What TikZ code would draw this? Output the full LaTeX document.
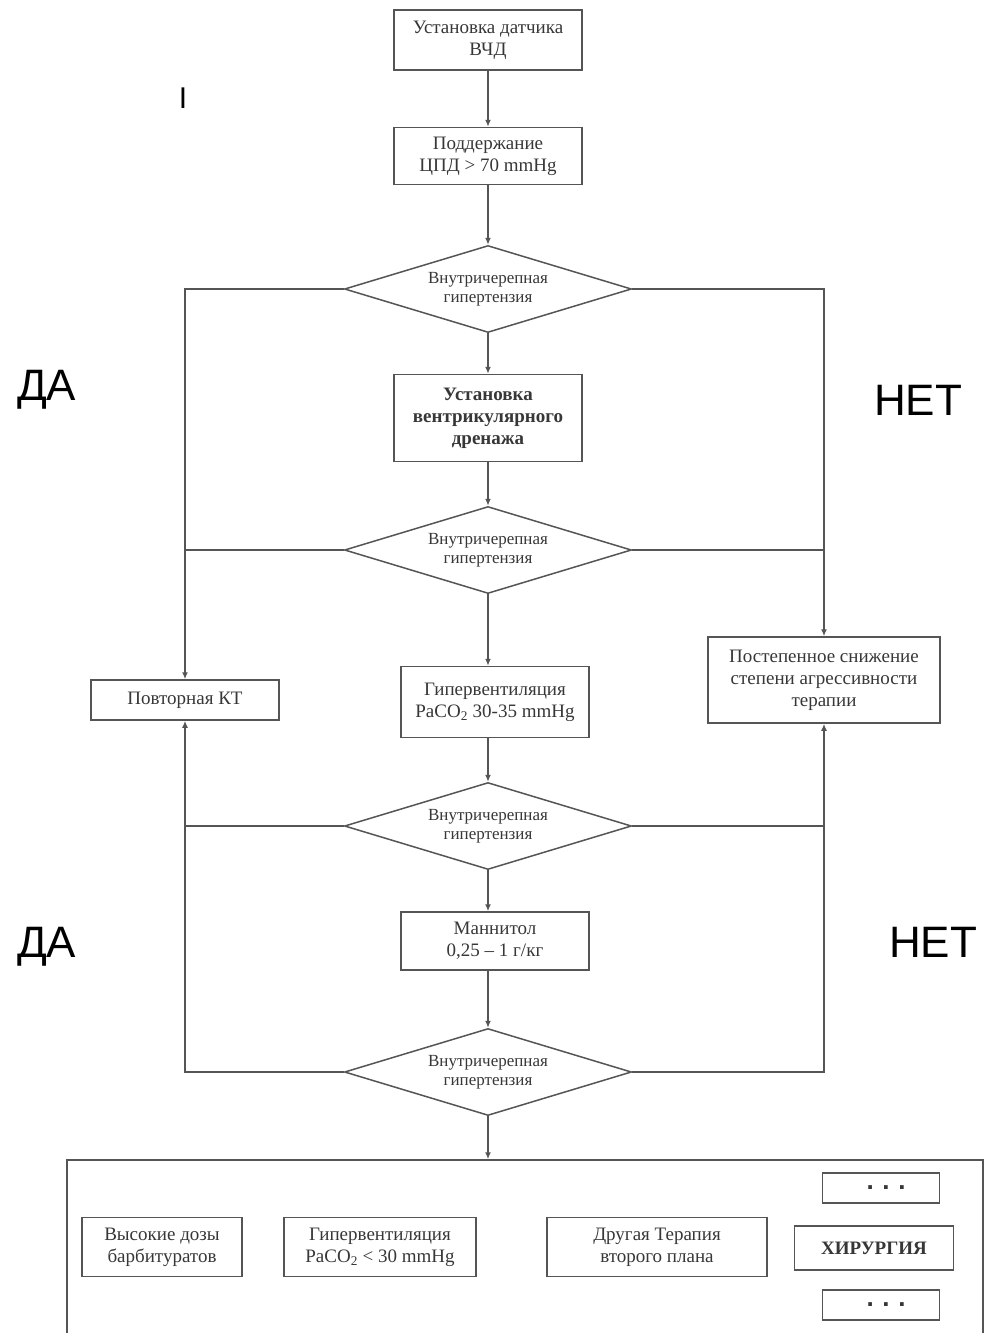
\documentclass[tikz,border=0pt]{standalone}
\usepackage{fontspec}
\setmainfont{Liberation Serif}
\newfontfamily\answerfont{Liberation Sans}
\definecolor{LineGray}{RGB}{85, 85, 85}
\definecolor{TextGray}{RGB}{55, 55, 55}
\usetikzlibrary{arrows.meta, positioning, shapes.geometric, calc}

\begin{document}
\begin{tikzpicture}[x=1pt, y=-1pt,
    stepbox/.style={draw=LineGray, line width=1.5pt, align=center, text=TextGray,
        font=\fontsize{19}{22}\selectfont, inner sep=2pt},
    check/.style={diamond, aspect=3.3, draw=LineGray, line width=1.5pt, minimum width=287pt,
        minimum height=87pt, inner sep=0pt, align=center, text=TextGray,
        font=\fontsize{17}{19}\selectfont},
    morebox/.style={stepbox, minimum width=117pt, minimum height=30pt,
        font=\bfseries\answerfont\fontsize{26}{26}\selectfont},
    arr/.style={draw=LineGray, line width=1.5pt, -{Latex[length=7pt, width=6pt]}},
    link/.style={draw=LineGray, line width=1.5pt},
    answer/.style={font=\answerfont\fontsize{44}{44}\selectfont, inner sep=0pt}]
    \useasboundingbox (0,0) rectangle (985,1333);

    % main column
    \node[stepbox, minimum width=188pt, minimum height=60pt] (sensor) at (488,40) {Установка датчика\\ВЧД};
    \node[stepbox, minimum width=188pt, minimum height=57pt] (cpp) at (488,156) {Поддержание\\ЦПД > 70 mmHg};
    \node[check] (ich1) at (488,289) {Внутричерепная\\гипертензия};
    \node[stepbox, minimum width=188pt, minimum height=87pt, font=\bfseries\fontsize{19}{22}\selectfont] (drain) at (488,418) {Установка\\вентрикулярного\\дренажа};
    \node[check] (ich2) at (488,550) {Внутричерепная\\гипертензия};
    \node[stepbox, minimum width=188pt, minimum height=71pt] (hypervent) at (495,702) {Гипервентиляция\\PaCO\textsubscript{2} 30-35 mmHg};
    \node[check] (ich3) at (488,826) {Внутричерепная\\гипертензия};
    \node[stepbox, minimum width=188pt, minimum height=58pt] (mannitol) at (495,941) {Маннитол\\0,25 -- 1 г/кг};
    \node[check] (ich4) at (488,1072) {Внутричерепная\\гипертензия};

    % side boxes
    \node[stepbox, minimum width=188pt, minimum height=40pt] (repeatct) at (185,700) {Повторная КТ};
    \node[stepbox, minimum width=232pt, minimum height=86pt] (taper) at (824,680) {Постепенное снижение\\степени агрессивности\\терапии};

    % second line therapy
    \node[draw=LineGray, line width=1.5pt, minimum width=916pt, minimum height=176pt, inner sep=0pt] (second) at (525,1248) {};
    \node[stepbox, minimum width=160pt, minimum height=59pt] (barbit) at (162,1247) {Высокие дозы\\барбитуратов};
    \node[stepbox, minimum width=192pt, minimum height=59pt] (deephv) at (380,1247) {Гипервентиляция\\PaCO\textsubscript{2} < 30 mmHg};
    \node[stepbox, minimum width=220pt, minimum height=59pt] (other) at (657,1247) {Другая Терапия\\второго плана};
    \node[stepbox, minimum width=159pt, minimum height=44pt, font=\bfseries\fontsize{19}{22}\selectfont] (surgery) at (874,1248) {ХИРУРГИЯ};
    \node[morebox] (moretop) at (881,1188) {\hspace{10pt}.\,\,.\,\,.};
    \node[morebox] (morebot) at (881,1305) {\hspace{10pt}.\,\,.\,\,.};

    % labels
    \node[answer, anchor=base west] (yes1) at (17,400) {ДА};
    \node[answer, anchor=base west] (no1) at (874,415) {НЕТ};
    \node[answer, anchor=base west] (yes2) at (17,957) {ДА};
    \node[answer, anchor=base west] (no2) at (889,957) {НЕТ};
    \node[font=\answerfont\fontsize{30}{30}\selectfont, inner sep=0pt, anchor=base] (cursor) at (183,108) {I};

    % connectors down the middle
    \draw[arr] (sensor) -- (cpp);
    \draw[arr] (cpp) -- (ich1);
    \draw[arr] (ich1) -- (drain);
    \draw[arr] (drain) -- (ich2);
    \draw[arr] (ich2.south) -- (ich2.south |- hypervent.north);
    \draw[arr] (hypervent.south -| ich3) -- (ich3);
    \draw[arr] (ich3.south) -- (ich3.south |- mannitol.north);
    \draw[arr] (mannitol.south -| ich4) -- (ich4);
    \draw[arr] (ich4.south) -- (ich4.south |- second.north);

    % yes / no branches
    \draw[arr] (ich1.west) -| (repeatct.north);
    \draw[link] (ich2.west) -- (ich2.west -| repeatct.north);
    \draw[arr] (ich1.east) -| (taper.north);
    \draw[link] (ich2.east) -- (ich2.east -| taper.north);
    \draw[arr] (ich3.west) -| (repeatct.south);
    \draw[link] (ich4.west) -| (ich3.west -| repeatct.south);
    \draw[arr] (ich3.east) -| (taper.south);
    \draw[link] (ich4.east) -| (ich3.east -| taper.south);
\end{tikzpicture}
\end{document}
